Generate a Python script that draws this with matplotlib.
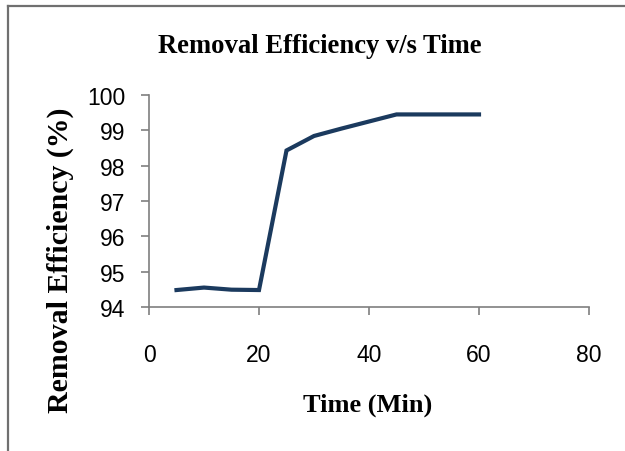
import matplotlib
matplotlib.use("Agg")
import matplotlib.pyplot as plt
from matplotlib.lines import Line2D

time_min = [5, 10, 15, 20, 25, 30, 35, 40, 45, 50, 55, 60]
efficiency = [94.48, 94.55, 94.49, 94.48, 98.43, 98.84, 99.05, 99.25, 99.45, 99.45, 99.45, 99.45]
x_ticks = [0, 20, 40, 60, 80]
y_ticks = [94, 95, 96, 97, 98, 99, 100]

W, H = 625, 452
fig = plt.figure(figsize=(W / 100, H / 100), dpi=100)
fig.patch.set_facecolor("white")

ax = fig.add_axes([149 / W, 1 - 308 / H, (589 - 149) / W, (308 - 96) / H])
ax.plot(time_min, efficiency, color="#1B3A5E", linewidth=3.0, solid_joinstyle="miter")
ax.set_xlim(0, 80)
ax.set_ylim(94, 100)
ax.set_xticks(x_ticks)
ax.set_yticks(y_ticks)
for s in ["top", "right"]:
    ax.spines[s].set_visible(False)
for s in ["left", "bottom"]:
    ax.spines[s].set_color("#7F7F7F")
    ax.spines[s].set_linewidth(1.2)
ax.tick_params(axis="both", direction="out", length=6, width=1.2, color="#7F7F7F",
               labelsize=16.5, labelcolor="black")
ax.tick_params(axis="y", pad=11)
ax.tick_params(axis="x", pad=20)
for lab in ax.get_xticklabels() + ax.get_yticklabels():
    lab.set_fontfamily(["Liberation Sans", "DejaVu Sans"])

serif = ["Liberation Serif", "DejaVu Serif"]
fig.text(320 / W, 1 - 53 / H, "Removal Efficiency v/s Time", ha="center", va="baseline",
         fontsize=19.2, fontweight="bold", family=serif)
fig.text(368 / W, 1 - 412 / H, "Time (Min)", ha="center", va="baseline",
         fontsize=19, fontweight="bold", family=serif)
fig.text(60 / W, 1 - 260 / H, "Removal Efficiency (%)", ha="center", va="center",
         rotation=90, fontsize=21.5, fontweight="bold", family=serif)

# outer border (top and left visible)
fig.add_artist(Line2D([8 / W, 1.0], [1 - 7 / H, 1 - 7 / H], transform=fig.transFigure,
                      color="#707070", linewidth=1.6))
fig.add_artist(Line2D([8 / W, 8 / W], [1 - 7 / H, 0.0], transform=fig.transFigure,
                      color="#707070", linewidth=1.6))

fig.savefig("out.png", dpi=100, facecolor="white")
